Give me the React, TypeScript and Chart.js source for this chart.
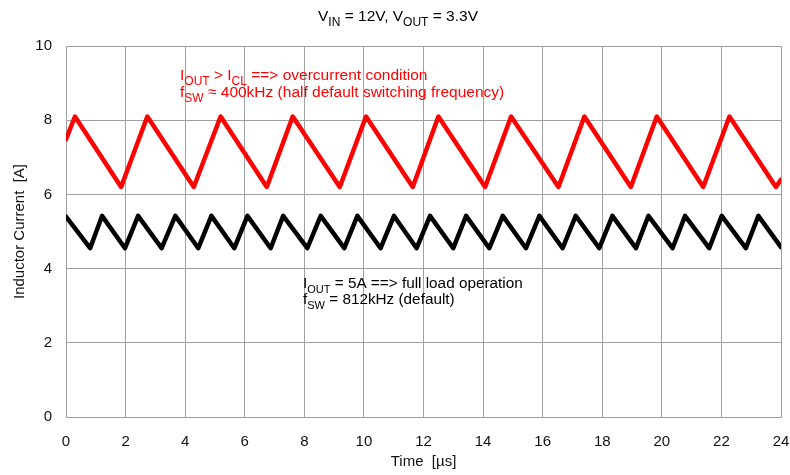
import React, { useEffect, useRef } from "react";
import { Chart, registerables } from "chart.js";

Chart.register(...registerables);

// Red trace (overcurrent, ~400 kHz): time [µs] and current [A] at each vertex
const redTime = [0, 0.3, 1.85, 2.73, 4.29, 5.19, 6.74, 7.61, 9.19, 10.07, 11.64, 12.5, 14.07, 14.94, 16.53, 17.4, 18.96, 19.83, 21.39, 22.27, 23.83, 24];
const redCurrent = [7.48, 8.1, 6.2, 8.1, 6.2, 8.1, 6.2, 8.1, 6.2, 8.1, 6.2, 8.1, 6.2, 8.1, 6.2, 8.1, 6.2, 8.1, 6.2, 8.1, 6.2, 6.4];

// Black trace (full load, 812 kHz)
const blackTime = [0, 0.81, 1.21, 1.98, 2.42, 3.21, 3.67, 4.44, 4.88, 5.65, 6.09, 6.87, 7.29, 8.1, 8.55, 9.34, 9.78, 10.56, 11.01, 11.77, 12.22, 13.0, 13.43, 14.21, 14.66, 15.44, 15.89, 16.67, 17.11, 17.9, 18.34, 19.13, 19.55, 20.36, 20.78, 21.59, 22.01, 22.82, 23.24, 24];
const blackCurrent = [5.4, 4.55, 5.42, 4.55, 5.42, 4.55, 5.42, 4.55, 5.42, 4.55, 5.42, 4.55, 5.42, 4.55, 5.42, 4.55, 5.42, 4.55, 5.42, 4.55, 5.42, 4.55, 5.42, 4.55, 5.42, 4.55, 5.42, 4.55, 5.42, 4.55, 5.42, 4.55, 5.42, 4.55, 5.42, 4.55, 5.42, 4.55, 5.42, 4.58];

const xTitle = "Time  [µs]";
const yTitle = "Inductor Current  [A]";

type Part = [string, boolean];
const titleParts: Part[] = [["V", false], ["IN", true], [" = 12V, V", false], ["OUT", true], [" = 3.3V", false]];
const redNote1: Part[] = [["I", false], ["OUT", true], [" > I", false], ["CL", true], [" ==> overcurrent condition", false]];
const redNote2: Part[] = [["f", false], ["SW", true], [" ≈ 400kHz (half default switching frequency)", false]];
const blackNote1: Part[] = [["I", false], ["OUT", true], [" = 5A ==> full load operation", false]];
const blackNote2: Part[] = [["f", false], ["SW", true], [" = 812kHz (default)", false]];

const FONT = '"Liberation Sans", Arial, Helvetica, sans-serif';

function drawRich(ctx: CanvasRenderingContext2D, parts: Part[], x: number, y: number, size: number, color: string, align: "left" | "center") {
  const mainF = `${size}px ${FONT}`;
  const subF = `${Math.round(size * 0.75)}px ${FONT}`;
  let total = 0;
  for (const [t, s] of parts) {
    ctx.font = s ? subF : mainF;
    total += ctx.measureText(t).width;
  }
  let cx = align === "center" ? x - total / 2 : x;
  ctx.fillStyle = color;
  ctx.textBaseline = "alphabetic";
  ctx.textAlign = "left";
  for (const [t, s] of parts) {
    ctx.font = s ? subF : mainF;
    ctx.fillText(t, cx, s ? y + size * 0.3 : y);
    cx += ctx.measureText(t).width;
  }
}

const textPlugin = {
  id: "richText",
  afterDraw(chart: any) {
    const ctx = chart.ctx as CanvasRenderingContext2D;
    ctx.save();
    drawRich(ctx, titleParts, 398, 21, 15.5, "#000", "center");
    drawRich(ctx, redNote1, 180, 80, 15.5, "#ff0000", "left");
    drawRich(ctx, redNote2, 180, 97, 15.5, "#ff0000", "left");
    drawRich(ctx, blackNote1, 303, 288, 15.3, "#000", "left");
    drawRich(ctx, blackNote2, 303, 304, 15.3, "#000", "left");
    ctx.restore();
  },
};

export default function App() {
  const ref = useRef<HTMLCanvasElement>(null);
  useEffect(() => {
    document.body.style.margin = "0";
    const canvas = ref.current!;
    const chart = new Chart(canvas, {
      type: "line",
      data: {
        datasets: [
          {
            data: redTime.map((t, i) => ({ x: t, y: redCurrent[i] })),
            borderColor: "#ff0000",
            borderWidth: 4.5,
            pointRadius: 0,
            borderJoinStyle: "round",
            borderCapStyle: "round",
            tension: 0,
            clip: 0,
          },
          {
            data: blackTime.map((t, i) => ({ x: t, y: blackCurrent[i] })),
            borderColor: "#000000",
            borderWidth: 4.5,
            pointRadius: 0,
            borderJoinStyle: "round",
            borderCapStyle: "round",
            tension: 0,
            clip: 0,
          },
        ],
      },
      options: {
        animation: false,
        responsive: false,
        devicePixelRatio: 1,
        layout: { padding: { top: 46, right: 9, left: 0, bottom: 0 } },
        plugins: { legend: { display: false }, tooltip: { enabled: false }, title: { display: false } },
        scales: {
          x: {
            type: "linear",
            min: 0,
            max: 24,
            ticks: { stepSize: 2, padding: 16, color: "#111", font: { size: 15, family: FONT }, maxRotation: 0 },
            grid: { color: "#a0a0a0", lineWidth: 1, drawTicks: false },
            border: { color: "#a0a0a0" },
            title: { display: true, text: xTitle, color: "#111", font: { size: 15, family: FONT }, padding: { top: 0, bottom: 4 } },
            afterFit: (s: any) => { s.height = 58; s.paddingLeft = 0; s.paddingRight = 0; },
          },
          y: {
            type: "linear",
            min: 0,
            max: 10,
            ticks: { stepSize: 2, padding: 14, color: "#111", font: { size: 15, family: FONT } },
            grid: { color: "#a0a0a0", lineWidth: 1, drawTicks: false },
            border: { color: "#a0a0a0" },
            title: { display: true, text: yTitle, color: "#111", font: { size: 15, family: FONT }, padding: { top: 11, bottom: 0 } },
            afterFit: (s: any) => { s.width = 66; s.paddingTop = 0; s.paddingBottom = 0; },
          },
        },
      },
      plugins: [textPlugin],
    } as any);
    return () => chart.destroy();
  }, []);
  return (
    <div style={{ position: "absolute", left: 0, top: 0, width: 790, height: 475, background: "#fff" }}>
      <canvas ref={ref} width={790} height={475} style={{ width: 790, height: 475, display: "block" }} />
    </div>
  );
}
